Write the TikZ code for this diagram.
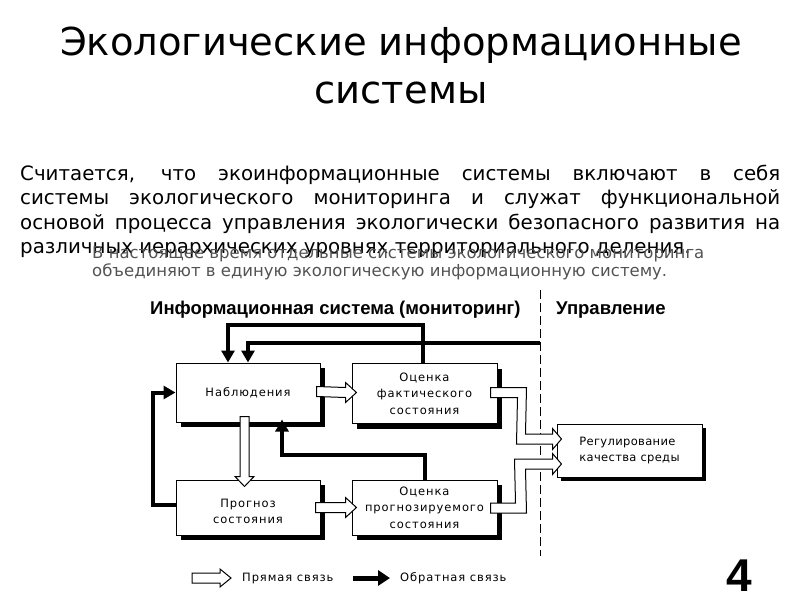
\documentclass[tikz,border=0pt]{standalone}
\usepackage{fontspec}
\setmainfont{DejaVu Sans}
\newfontfamily\boxfont[LetterSpace=8]{DejaVu Sans}
\newfontfamily\regfont[LetterSpace=3]{DejaVu Sans}
\newfontfamily\hdfont{Liberation Sans}
\usetikzlibrary{calc,arrows.meta,shadows}
\begin{document}
\begin{tikzpicture}[x=1pt,y=-1pt,
  box/.style={draw, line width=1pt, fill=white, inner sep=0pt, align=center,
    font=\boxfont\fontsize{11.5}{16.5}\selectfont,
    general shadow={fill=black, shadow xshift=5pt, shadow yshift=-5pt}},
  regbox/.style={draw, line width=1pt, fill=white, inner sep=0pt, align=left,
    font=\regfont\fontsize{11.5}{16.5}\selectfont,
    general shadow={fill=black, shadow xshift=4pt, shadow yshift=-4pt}},
  hollow/.style={draw, fill=white, line width=1pt, line join=miter},
  fb/.style={draw, line width=4pt, line join=miter, -{Triangle[width=13pt,length=12pt]}},
  head/.style={font=\hdfont\bfseries\fontsize{18.5}{22}\selectfont, inner sep=0pt, anchor=base west},
  legend/.style={font=\boxfont\fontsize{11.5}{14}\selectfont, inner sep=0pt, anchor=west},
  graytxt/.style={font=\fontsize{16.5}{18}\selectfont, text=black!68, inner sep=0pt, anchor=base west}
]
\useasboundingbox (0,0) rectangle (800,600);

% Title
\node[font=\fontsize{38.5}{46}\selectfont, inner sep=0pt, anchor=base] (t1) at (401,55) {Экологические информационные};
\node[font=\fontsize{38.5}{46}\selectfont, inner sep=0pt, anchor=base] (t2) at (401,103) {системы};

% Paragraph
\node[font=\fontsize{19.8}{24.3}\selectfont, text width=760pt, align=justify, inner sep=0pt, anchor=north west] (par) at (20,165)
 {Считается, что экоинформационные системы включают в себя\linebreak
  системы экологического мониторинга и служат функциональной\linebreak
  основой процесса управления экологически безопасного развития на\linebreak
  различных иерархических уровнях территориального деления.};

\node[graytxt] (g1) at (92,258) {В настоящее время отдельные системы экологического мониторинга};
\node[graytxt] (g2) at (92,276) {объединяют в единую экологическую информационную систему.};

% Headers
\node[head] (h1) at (150,314) {Информационная система (мониторинг)};
\node[head] (h2) at (556,314) {Управление};

% Dashed separator
\draw[line width=1pt, dash pattern=on 9pt off 4pt] (540,290) -- (540,556);
\coordinate (ctl) at (540,343);

% Boxes
\node[box, minimum width=144pt, minimum height=59pt] (nab) at (248,392.5) {Наблюдения};
\node[box, minimum width=145pt, minimum height=60pt] (fak) at (424.5,393.5) {Оценка\\фактического\\состояния};
\node[box, minimum width=144pt, minimum height=55pt] (prog) at (248,507.5) {\rule{0pt}{16.5pt}Прогноз\\состояния};
\node[box, minimum width=145pt, minimum height=55pt] (opr) at (424.5,507.5) {Оценка\\прогнозируемого\\состояния};
\node[regbox, minimum width=145pt, minimum height=53pt] (reg) at (629.5,450.5) {Регулирование\\качества среды};

% Hollow (direct) connections
% nab -> fak
\draw[hollow] ($(nab.east)+(-4,-6)$) -- ($(fak.west)+(-6,-6)$) -- ($(fak.west)+(-6,-11)$)
  -- ($(fak.west)+(5,-1)$) -- ($(fak.west)+(-6,9)$) -- ($(fak.west)+(-6,4)$) -- ($(nab.east)+(-4,4)$) -- cycle;
% prog -> opr
\draw[hollow] ($(prog.east)+(-5,-5)$) -- ($(opr.west)+(-6,-5)$) -- ($(opr.west)+(-6,-10)$)
  -- ($(opr.west)+(5,0)$) -- ($(opr.west)+(-6,10)$) -- ($(opr.west)+(-6,5)$) -- ($(prog.east)+(-5,5)$) -- cycle;
% nab -> prog
\draw[hollow] ($(nab.south)+(-8,-6)$) -- ($(prog.north)+(-8,-3)$) -- ($(prog.north)+(-13,-3)$)
  -- ($(prog.north)+(-3.5,7)$) -- ($(prog.north)+(6,-3)$) -- ($(prog.north)+(1,-3)$) -- ($(nab.south)+(1,-6)$) -- cycle;
% fak -> reg
\draw[hollow] ($(fak.east)+(-7,-6)$) -- ($(fak.east)+(29,-6)$) -- ($(reg.west)+(-31,-16.5)$)
  -- ($(reg.west)+(-4,-16.5)$) -- ($(reg.west)+(-4,-22)$) -- ($(reg.west)+(5,-11.5)$)
  -- ($(reg.west)+(-4,-1)$) -- ($(reg.west)+(-4,-6.5)$) -- ($(reg.west)+(-40,-6.5)$)
  -- ($(fak.east)+(20,4)$) -- ($(fak.east)+(-7,4)$) -- cycle;
% opr -> reg
\draw[hollow] ($(opr.east)+(-7,-4.5)$) -- ($(opr.east)+(18,-4.5)$) -- ($(reg.west)+(-42,8.5)$)
  -- ($(reg.west)+(-4,8.5)$) -- ($(reg.west)+(-4,3)$) -- ($(reg.west)+(5,13.5)$)
  -- ($(reg.west)+(-4,24)$) -- ($(reg.west)+(-4,18.5)$) -- ($(reg.west)+(-31,18.5)$)
  -- ($(opr.east)+(29,5.5)$) -- ($(opr.east)+(-7,5.5)$) -- cycle;

% Feedback connections
\draw[fb] ($(fak.north)+(-1.5,0)$) -- ++(0,-38) -| ($(nab.north)+(-20,0)$);
\draw[fb] (ctl) -| (nab.north);
\draw[fb] ($(opr.north)+(0.5,0)$) -- ++(0,-25) -| ($(nab.south)+(34,-3)$);
\draw[fb] ($(prog.west)+(0,-2.5)$) -- ++(-23,0) |- (nab.west);

% Legend
\node[legend] (l1) at (242,578) {Прямая связь};
\node[legend] (l2) at (400,578) {Обратная связь};
\coordinate (l1s) at (192,578);
\draw[hollow] ($(l1s)+(0,-5)$) -- ($(l1.west)+(-22,-5)$) -- ($(l1.west)+(-22,-9)$) -- ($(l1.west)+(-11,0)$)
  -- ($(l1.west)+(-22,9)$) -- ($(l1.west)+(-22,5)$) -- ($(l1s)+(0,5)$) -- cycle;
\coordinate (l2s) at (353,578);
\draw[line width=5pt, -{Triangle[width=15pt,length=12pt]}] (l2s) -- ($(l2.west)+(-10,0)$);

% Page number
\node[font=\hdfont\bfseries\fontsize{46}{46}\selectfont, inner sep=0pt, anchor=base] (num) at (739.5,591) {4};
\end{tikzpicture}
\end{document}
